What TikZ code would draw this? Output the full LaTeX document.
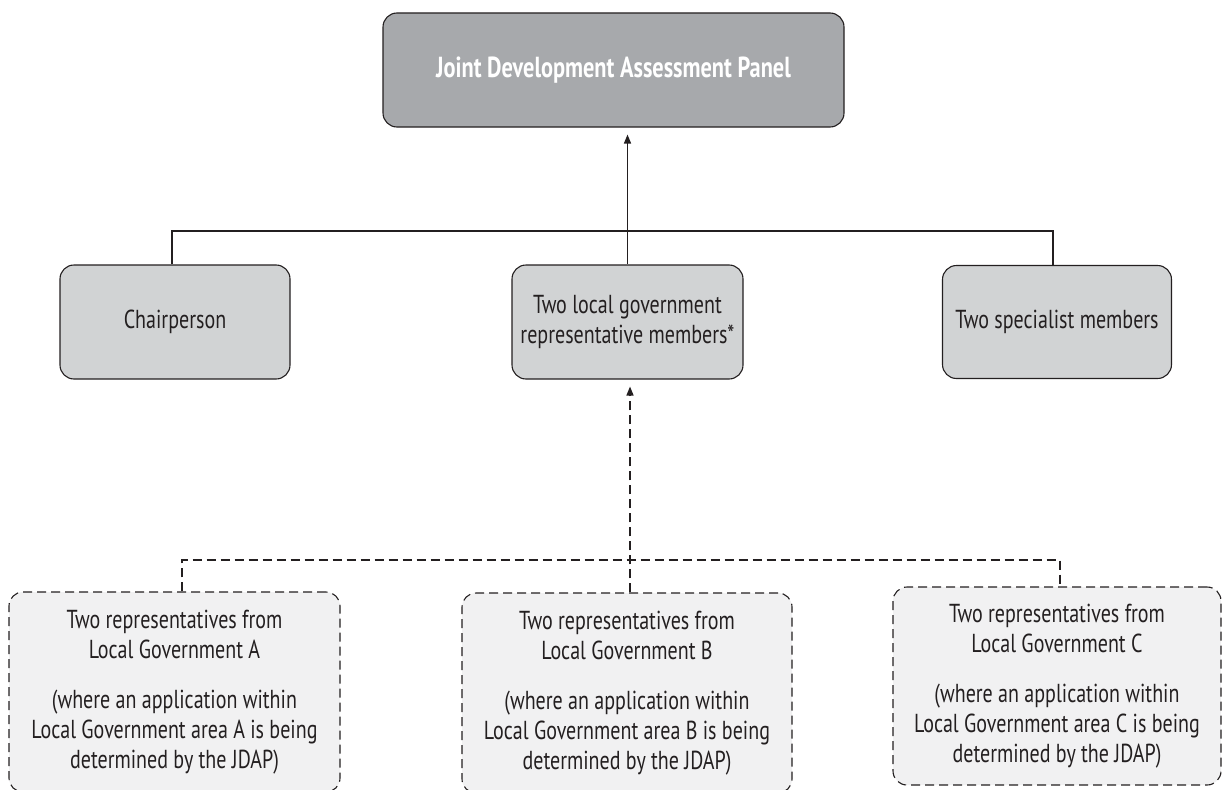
\documentclass[tikz,border=0pt]{standalone}
\usepackage{fontspec}
\setmainfont[FakeStretch=0.77]{PT Sans}
\usetikzlibrary{arrows.meta}
\definecolor{ink}{HTML}{231F20}
\definecolor{topfill}{HTML}{A7A9AC}
\definecolor{midfill}{HTML}{D1D3D4}
\definecolor{lowfill}{HTML}{F1F1F2}
\tikzset{
  box/.style={draw=ink, line width=1.1pt, rounded corners=14pt, align=center,
    text=ink, font=\fontsize{26}{30}\selectfont, inner sep=0pt},
  topbox/.style={box, fill=topfill, text=white, font=\fontsize{29}{32}\selectfont\bfseries},
  midbox/.style={box, fill=midfill},
  lowbox/.style={box, fill=lowfill, dashed, dash pattern=on 9pt off 5pt},
  link/.style={draw=ink, line width=1.4pt},
  dlink/.style={link, dash pattern=on 9pt off 5pt},
  tip/.style={-{Triangle[length=9pt,width=7pt]}, shorten >=7pt}
}
\begin{document}
\begin{tikzpicture}[x=1pt,y=-1pt]
\useasboundingbox (0,0) rectangle (1222,789);
\begin{scope}
\clip (0,0) rectangle (1222,789);
\node[topbox, minimum width=461pt, minimum height=114pt] (jdap) at (613.5,70) {Joint Development Assessment Panel};
\node[midbox, minimum width=230pt, minimum height=114pt] (chair) at (175,322) {Chairperson};
\node[midbox, minimum width=231pt, minimum height=114pt] (lgrep) at (627.5,322) {Two local government\\representative members*};
\node[midbox, minimum width=229pt, minimum height=113pt] (spec) at (1057,322) {Two specialist members};
\node[lowbox, minimum width=331pt, minimum height=200pt] (lga) at (174.5,692) {Two representatives from\\Local Government A\\[20pt](where an application within\\Local Government area A is being\\determined by the JDAP)};
\node[lowbox, minimum width=330pt, minimum height=200pt] (lgb) at (627,693) {Two representatives from\\Local Government B\\[20pt](where an application within\\Local Government area B is being\\determined by the JDAP)};
\node[lowbox, minimum width=328pt, minimum height=198pt] (lgc) at (1057,686) {Two representatives from\\Local Government C\\[20pt](where an application within\\Local Government area C is being\\determined by the JDAP)};
\end{scope}
\coordinate (hl) at (172,231);
\coordinate (hr) at (1053,231);
\coordinate (dl) at (182,560);
\coordinate (dr) at (1060,560);
\coordinate (dm) at (630,560);
\draw[link] (chair.north -| hl) -- (hl) -- (hr) -- (spec.north -| hr);
\draw[link, tip] (lgrep.north) -- (jdap.south -| lgrep.north);
\draw[dlink] (lga.north -| dl) -- (dl) -- (dr) -- (lgc.north -| dr);
\draw[dlink, tip] (lgb.north -| dm) -- (lgrep.south -| dm);
\end{tikzpicture}
\end{document}
